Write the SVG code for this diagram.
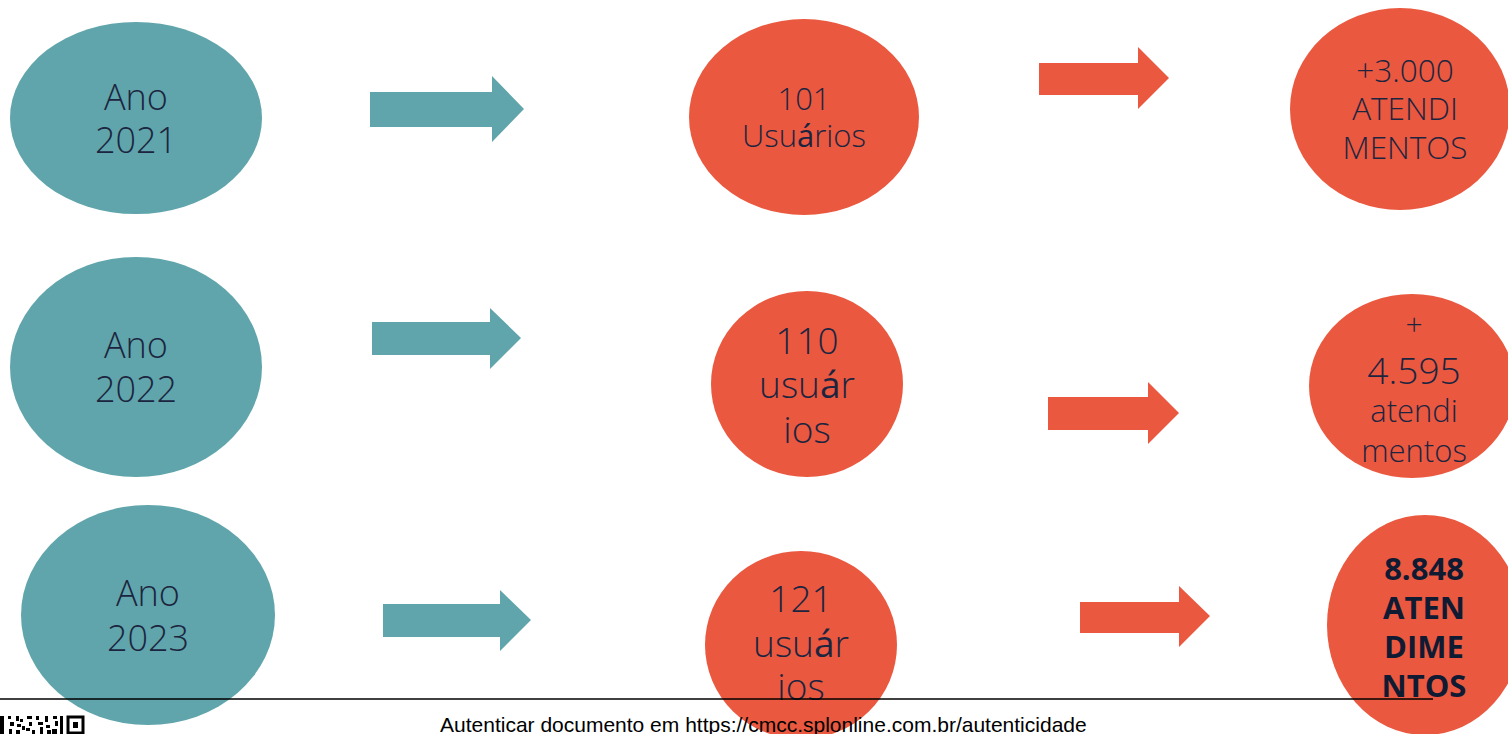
<svg xmlns="http://www.w3.org/2000/svg" width="1508" height="734" viewBox="0 0 1508 734">
<style>
.teal{fill:#60a5ab}
.red{fill:#ea583f}
.t{font-family:"Open Sans","Liberation Sans",sans-serif;font-weight:300;fill:#1c2540;text-anchor:middle}
.b{font-family:"Open Sans","Liberation Sans",sans-serif;font-weight:700;fill:#0f1a33;text-anchor:middle}
.f{font-family:"Liberation Sans",Arial,sans-serif;font-size:21px;fill:#000}
</style>
<rect width="1508" height="734" fill="#fff"/>
<g id="connectors">
<polygon class="teal" points="370,92 492,92 492,76 524,109 492,142 492,127 370,127"/>
<polygon class="teal" points="372,322 490,322 490,308 521,338 490,369 490,355 372,355"/>
<polygon class="teal" points="383,604 500,604 500,590 531,620 500,651 500,637 383,637"/>
<polygon class="red" points="1039,63 1138,63 1138,47 1169,78 1138,109 1138,95 1039,95"/>
<polygon class="red" points="1048,397 1148,397 1148,382 1179,413 1148,444 1148,430 1048,430"/>
<polygon class="red" points="1080,602 1179,602 1179,586 1210,616 1179,647 1179,633 1080,633"/>
</g>
<g id="ano2021">
<ellipse class="teal" cx="136" cy="118" rx="126" ry="96"/>
<text class="t" x="136" y="110" font-size="36">Ano</text>
<text class="t" x="136" y="153" font-size="36">2021</text>
</g>
<g id="ano2022">
<ellipse class="teal" cx="136" cy="367" rx="126" ry="110"/>
<text class="t" x="136" y="358" font-size="36">Ano</text>
<text class="t" x="136" y="402" font-size="36">2022</text>
</g>
<g id="ano2023">
<ellipse class="teal" cx="148" cy="615" rx="127" ry="110"/>
<text class="t" x="148" y="606" font-size="36">Ano</text>
<text class="t" x="148" y="651" font-size="36">2023</text>
</g>
<g id="usuarios2021">
<ellipse class="red" cx="804" cy="117" rx="115" ry="98"/>
<text class="t" x="804" y="110" font-size="31">101</text>
<text class="t" x="804" y="147" font-size="31">Usu<tspan font-weight="400">á</tspan>rios</text>
</g>
<g id="usuarios2022">
<ellipse class="red" cx="807" cy="384" rx="96" ry="93"/>
<text class="t" x="807" y="354" font-size="37">110</text>
<text class="t" x="807" y="398" font-size="37">usu<tspan font-weight="400">á</tspan>r</text>
<text class="t" x="807" y="443" font-size="37">ios</text>
</g>
<g id="usuarios2023">
<ellipse class="red" cx="801" cy="645" rx="96" ry="94"/>
<text class="t" x="801" y="612" font-size="37">121</text>
<text class="t" x="801" y="657" font-size="37">usu<tspan font-weight="400">á</tspan>r</text>
<text class="t" x="801" y="700" font-size="37">ios</text>
</g>
<g id="atendimentos2021">
<ellipse class="red" cx="1400" cy="109" rx="110" ry="101"/>
<text class="t" x="1405" y="82" font-size="31.5">+3.000</text>
<text class="t" x="1405" y="120" font-size="31.5">ATENDI</text>
<text class="t" x="1405" y="159" font-size="31.5">MENTOS</text>
</g>
<g id="atendimentos2022">
<ellipse class="red" cx="1412" cy="386" rx="103" ry="92"/>
<text class="t" x="1414" y="335" font-size="30">+</text>
<text class="t" x="1414" y="384" font-size="37">4.595</text>
<text class="t" x="1414" y="422" font-size="31">atendi</text>
<text class="t" x="1414" y="462" font-size="31">mentos</text>
</g>
<g id="atendimentos2023">
<ellipse class="red" cx="1425" cy="625" rx="98" ry="110"/>
<text class="b" x="1424" y="580" font-size="31">8.848</text>
<text class="b" x="1424" y="619" font-size="31">ATEN</text>
<text class="b" x="1424" y="658" font-size="31">DIME</text>
<text class="b" x="1424" y="697" font-size="31">NTOS</text>
</g>
<g id="footer">
<line x1="0" y1="699" x2="1433" y2="699" stroke="#000" stroke-width="1.3"/>
<text class="f" x="440" y="732">Autenticar documento em https://cmcc.splonline.com.br/autenticidade</text>
<g fill="#000">
<rect x="0" y="716" width="4" height="18"/>
<rect x="8" y="716" width="3" height="3"/><rect x="10" y="722" width="4" height="4"/><rect x="9" y="729" width="3" height="5"/>
<rect x="16" y="716" width="3" height="5"/><rect x="20" y="719" width="3" height="3"/><rect x="17" y="724" width="4" height="3"/><rect x="22" y="726" width="3" height="4"/><rect x="16" y="730" width="4" height="4"/>
<rect x="27" y="716" width="5" height="3"/><rect x="29" y="722" width="3" height="4"/><rect x="26" y="728" width="4" height="3"/><rect x="32" y="730" width="3" height="4"/>
<rect x="36" y="716" width="3" height="4"/><rect x="38" y="722" width="5" height="3"/><rect x="40" y="727" width="3" height="7"/><rect x="45" y="716" width="3" height="6"/><rect x="46" y="725" width="4" height="3"/><rect x="47" y="730" width="4" height="4"/>
<rect x="53" y="716" width="4" height="3"/><rect x="55" y="721" width="3" height="5"/><rect x="52" y="729" width="5" height="5"/><rect x="60" y="716" width="3" height="18"/>
</g>
<rect x="68" y="717" width="15" height="16" fill="none" stroke="#000" stroke-width="3"/>
<rect x="73" y="722" width="5" height="6" fill="#000"/>
</g>
</svg>
